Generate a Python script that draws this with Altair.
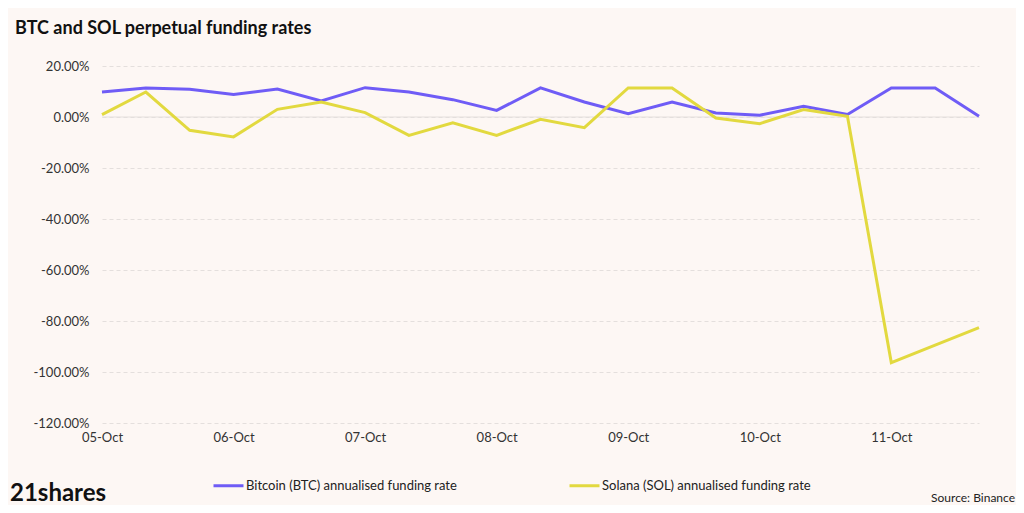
import altair as alt
import pandas as pd

times = pd.date_range("2025-10-05T00:00:00", periods=21, freq="8h").strftime("%Y-%m-%dT%H:%M:%S").tolist()
btc = [9.8, 11.4, 10.9, 8.8, 11.0, 6.3, 11.5, 9.8, 6.8, 2.6, 11.4, 5.9, 1.3, 5.9, 1.6, 0.7, 4.2, 1.0, 11.4, 11.4, 0.3]
sol = [0.9, 9.8, -5.2, -7.8, 3.0, 5.9, 1.7, -7.2, -2.3, -7.2, -0.9, -4.2, 11.4, 11.4, -0.4, -2.6, 2.9, 0.3, -96.3, -89.5, -82.6]
btc_name = "Bitcoin (BTC) annualised funding rate"
sol_name = "Solana (SOL) annualised funding rate"
y_ticks = [20, 0, -20, -40, -60, -80, -100, -120]
day_ticks = [5, 6, 7, 8, 9, 10, 11]

rows = []
for t, b, s in zip(times, btc, sol):
    rows.append({"time": t, "series": btc_name, "value": b / 100})
    rows.append({"time": t, "series": sol_name, "value": s / 100})
df = pd.DataFrame(rows)

FONT = "Lato"
BG = "#fdf7f4"

x_enc = alt.X(
    "time:T",
    scale=alt.Scale(type="utc", domain=[times[0], times[-1]]),
    axis=alt.Axis(
        title=None,
        labelExpr="utcFormat(datum.value, '%d-%b')",
        values=[alt.DateTime(year=2025, month=10, date=d, utc=True) for d in day_ticks],
        grid=False, ticks=False, domain=False, labelPadding=8, labelFlush=False,
        labelAlign="center",
        labelFontSize=13, labelColor="#333333", labelFont=FONT,
    ),
)
y_enc = alt.Y(
    "value:Q",
    scale=alt.Scale(domain=[-1.2, 0.2], nice=False),
    axis=alt.Axis(
        title=None, values=[v / 100 for v in y_ticks],
        labelExpr="replace(format(datum.value, '.2%'), '\u2212', '-')",
        grid=True, gridDash=[4, 3], gridColor="#e4dfdd", gridWidth=1,
        ticks=False, domain=False, labelPadding=13,
        labelFontSize=13, labelColor="#333333", labelFont=FONT,
    ),
)

lines = alt.Chart(df).mark_line(strokeWidth=3, strokeJoin="miter").encode(
    x=x_enc,
    y=y_enc,
    color=alt.Color(
        "series:N",
        scale=alt.Scale(domain=[btc_name, sol_name], range=["#6f5cf6", "#e2d93f"]),
        legend=alt.Legend(
            title=None, orient="none", legendX=110, legendY=403,
            direction="horizontal", symbolType="stroke", symbolSize=900,
            symbolStrokeWidth=3, labelFontSize=13, labelFont=FONT,
            labelColor="#222222", columnPadding=106, labelOffset=1, labelLimit=400,
        ),
    ),
)

zero = alt.Chart(pd.DataFrame({"v": [0.0]})).mark_rule(color="#e4dfdd", strokeWidth=1).encode(y=alt.Y("v:Q"))

title_df = pd.DataFrame({"t": ["BTC and SOL perpetual funding rates"]})
title = alt.Chart(title_df).mark_text(
    align="left", baseline="alphabetic", fontSize=18, fontWeight="bold", font=FONT, color="#111111"
).encode(x=alt.value(-87), y=alt.value(-32), text="t:N")

logo = alt.Chart(pd.DataFrame({"t": ["21shares"]})).mark_text(
    align="left", baseline="alphabetic", fontSize=24, fontWeight="bold", font=FONT, color="#111111"
).encode(x=alt.value(-92), y=alt.value(435), text="t:N")

source = alt.Chart(pd.DataFrame({"t": ["Source: Binance"]})).mark_text(
    align="right", baseline="alphabetic", fontSize=12, font=FONT, color="#222222"
).encode(x=alt.value(913), y=alt.value(436), text="t:N")

chart = alt.layer(zero, lines, title, logo, source).properties(
    width=877, height=357,
    autosize=alt.AutoSizeParams(type="none"),
    padding={"left": 94, "top": 58, "right": 37, "bottom": 82},
    background=BG,
).configure_view(stroke=None)

chart.save("out.html", embed_options={"renderer": "svg", "actions": False})
